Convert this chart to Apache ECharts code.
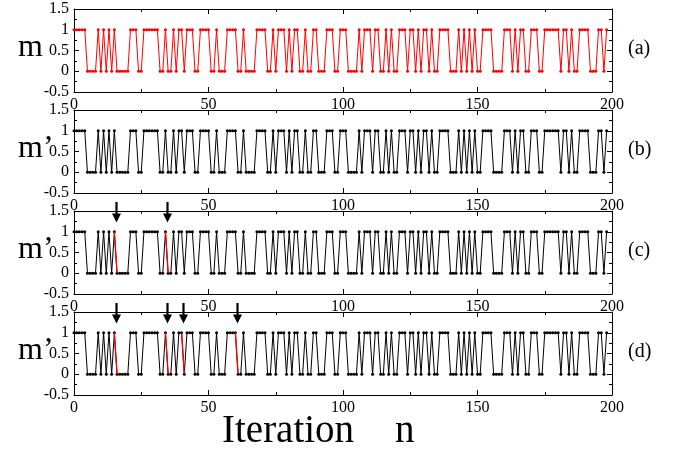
<!DOCTYPE html>
<html>
<head>
<meta charset="utf-8">
<script src="https://cdn.jsdelivr.net/npm/echarts@6.0.0/dist/echarts.min.js"></script>
<style>html,body{margin:0;padding:0;background:#fff;}#chart{width:673px;height:451px;}</style>
</head>
<body>
<div id="chart"></div>
<script>
// ---- data ----
const m = [
1,1,1,1,1, 0,0,0,0, 1,0,1,0,1,0,1, 0,0,0,0,0, 1,1,1, 0,0, 1,1,1,1,1,1, 0,0,
1,0,0,1,0,1,1,0, 1,1,1, 0,0, 1,1,1,1, 0,0,1, 0,0,0, 1,1,1,1, 0,0,1, 0,0,0,0,
1,1,1,1, 0,0,1,0, 1,1,1, 0,1,0, 1,1, 0,0,1, 0,0, 1,1, 0,0,0, 1,1,1, 0,0,
1,1,1, 0,0,0,0, 1,0, 1,1,1, 0, 1,1, 0,0, 1,0,1, 0,0, 1,1,1, 0, 1,1, 0, 1,0,
1,1, 0, 1, 0,0, 1,1,1,1, 0,0,0, 1,0,1,0,1,0,1,0,0, 1,1,1,1, 0,0,0,0, 1,1,1,
0,1,0, 1,1, 0,0, 1,1,1, 0,0, 1,1,1,1,1,1, 0, 1,1, 0, 1, 0,0, 1,1,1,1, 0,0,0,
1,1, 0, 1
];
const mPrime = m.slice();               // panels (b)-(d) show the same sequence
const redSegC = [15, 34];               // start index of highlighted transitions, panel (c)
const redSegD = [15, 34, 40, 60];       // panel (d)
const xTicks = [0, 50, 100, 150, 200];
const yTicks = [-0.5, 0, 0.5, 1, 1.5];
const panelLabels = ['(a)', '(b)', '(c)', '(d)'];
const yNames = ['m', 'm\u2019', 'm\u2019', 'm\u2019'];
const arrowTipValue = 1.22;

// ---- layout / style ----
const FONT = 'Liberation Serif';
const tops = [9, 110, 211, 312];
const GL = 74, GW = 538, GH = 83;
const panels = [
  {seq: m, color: '#ff0000', red: []},
  {seq: mPrime, color: '#000000', red: []},
  {seq: mPrime, color: '#000000', red: redSegC},
  {seq: mPrime, color: '#000000', red: redSegD}
];

const grids = [], xAxes = [], yAxes = [], series = [], graphics = [];
const axisCommon = {
  axisLine: {show: true, onZero: false, lineStyle: {color: '#000', width: 1}},
  axisTick: {show: true, inside: true, length: 5, lineStyle: {color: '#000', width: 1}},
  minorTick: {show: true, splitNumber: 2, length: 3, lineStyle: {color: '#000', width: 1}},
  splitLine: {show: false},
  minorSplitLine: {show: false}
};
function renderArrow(params, api) {
  const top = api.coord([api.value(0), yTicks[yTicks.length - 1]]);
  const tip = api.coord([api.value(0), arrowTipValue]);
  const x = Math.round(top[0]) + 0.5;
  return {
    type: 'group',
    children: [
      {type: 'line', shape: {x1: x, y1: top[1] - 9, x2: x, y2: tip[1] - 7},
        style: {stroke: '#000', lineWidth: 2.2}},
      {type: 'polygon', shape: {points: [[x - 4.5, tip[1] - 9], [x + 4.5, tip[1] - 9], [x, tip[1]]]},
        style: {fill: '#000'}}
    ]
  };
}
panels.forEach((p, k) => {
  grids.push({left: GL, width: GW, top: tops[k], height: GH, show: false, outerBoundsMode: 'none', containLabel: false});
  const xBase = Object.assign({}, axisCommon, {
    gridIndex: k, type: 'value', min: xTicks[0], max: xTicks[xTicks.length - 1],
    interval: xTicks[1] - xTicks[0]
  });
  xAxes.push(Object.assign({}, xBase, {position: 'bottom',
    axisLabel: {show: true, color: '#000', fontFamily: FONT, fontSize: 16, margin: 5,
      showMinLabel: true, showMaxLabel: true, hideOverlap: false}}));
  xAxes.push(Object.assign({}, xBase, {position: 'top', axisLabel: {show: false}}));
  const yBase = Object.assign({}, axisCommon, {
    gridIndex: k, type: 'value', min: yTicks[0], max: yTicks[yTicks.length - 1],
    interval: yTicks[1] - yTicks[0]
  });
  yAxes.push(Object.assign({}, yBase, {position: 'left',
    axisLabel: {show: true, color: '#000', fontFamily: FONT, fontSize: 16, margin: 5,
      showMinLabel: true, showMaxLabel: true, hideOverlap: false}}));
  yAxes.push(Object.assign({}, yBase, {position: 'right', axisLabel: {show: false}}));

  series.push({
    type: 'line', xAxisIndex: 2 * k, yAxisIndex: 2 * k,
    data: p.seq.map((v, i) => [i, v]),
    symbol: 'circle', symbolSize: 3, showSymbol: true,
    lineStyle: {color: p.color, width: 1},
    itemStyle: {color: p.color},
    animation: false, silent: true, z: 2
  });
  p.red.forEach(r => {
    series.push({
      type: 'line', xAxisIndex: 2 * k, yAxisIndex: 2 * k,
      data: [[r, p.seq[r]], [r + 1, p.seq[r + 1]]],
      symbol: 'none', lineStyle: {color: '#ff0000', width: 1.3},
      animation: false, silent: true, z: 3
    });
  });
  if (p.red.length) {
    series.push({
      type: 'custom', xAxisIndex: 2 * k, yAxisIndex: 2 * k,
      data: p.red.map(r => [r + 0.5]),
      renderItem: renderArrow, clip: false,
      animation: false, silent: true, z: 4
    });
  }
  graphics.push({type: 'text', left: 18, top: tops[k] + GH / 2 - 19,
    style: {text: yNames[k], font: '32px "' + FONT + '"', fill: '#000'}});
  graphics.push({type: 'text', left: 628, top: tops[k] + GH / 2 - 12,
    style: {text: panelLabels[k], font: '20px "' + FONT + '"', fill: '#000'}});
});
graphics.push({type: 'text', left: 222, top: 412,
  style: {text: 'Iteration', font: '39px "' + FONT + '"', fill: '#000'}});
graphics.push({type: 'text', left: 395, top: 412,
  style: {text: 'n', font: '39px "' + FONT + '"', fill: '#000'}});

const chart = echarts.init(document.getElementById('chart'), null, {renderer: 'canvas'});
chart.setOption({
  backgroundColor: '#fff',
  animation: false,
  grid: grids, xAxis: xAxes, yAxis: yAxes, series: series, graphic: graphics
});
</script>
</body>
</html>
